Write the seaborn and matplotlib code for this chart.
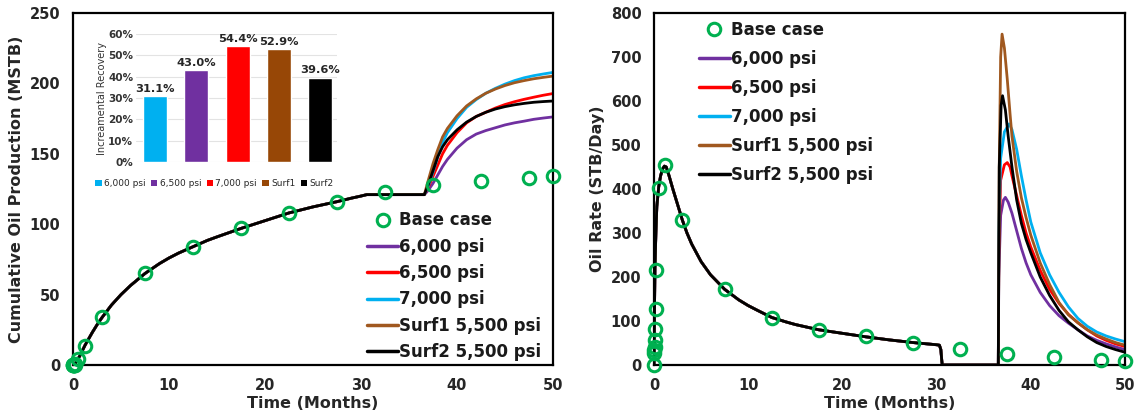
import numpy as np
import pandas as pd
import matplotlib
matplotlib.use("Agg")
import matplotlib.pyplot as plt
from matplotlib.lines import Line2D
from matplotlib.patches import Patch
import seaborn as sns

sns.set_theme(style="white")
plt.rcParams['font.family'] = ['DejaVu Sans']

# ---------------- data ----------------
series_names = ["6,000 psi", "6,500 psi", "7,000 psi", "Surf1 5,500 psi", "Surf2 5,500 psi"]
line_colors = ["#7030A0", "#FF0000", "#00B0F0", "#A0581F", "#000000"]

# base case markers (time in months)
base_t = [0, 0.03, 0.05, 0.07, 0.1, 0.13, 0.17, 0.25, 0.5, 1.2, 3, 7.5, 12.5, 17.5,
          22.5, 27.5, 32.5, 37.5, 42.5, 47.5, 50]
base_cum = [0, 0, 0, 0, 0.1, 0.2, 0.3, 1, 4, 13.5, 34, 65, 84, 97,
            108, 116, 123, 127.5, 131, 133, 134]
base_rate = [0, 28, 33, 40, 57, 82, 128, 215, 402, 455, 330, 172, 107, 80,
             65, 50, 36, 25, 18, 11, 10]

# shared history (before re-injection)
hist_cum_t = [0, 0.25, 0.5, 0.75, 1, 1.25, 1.5, 2, 2.5, 3, 3.5, 4, 5, 6, 7.5, 9, 10, 11,
              12.5, 14, 15, 17.5, 20, 22.5, 25, 27.5, 29, 30, 30.6]
hist_cum = [0, 1.3, 4, 7, 10.5, 14, 17, 23, 28.5, 33.5, 38, 42.5, 50, 56.5, 65, 72, 76, 79.5,
            84, 88.5, 91, 97, 102.5, 108, 112.3, 116, 118.5, 120, 121]

hist_rate_t = [0, 0.05, 0.1, 0.2, 0.3, 0.5, 0.7, 0.9, 1.1, 1.3, 1.6, 2, 2.5, 3, 3.5, 4, 5, 6,
               7.5, 9, 10, 11, 12.5, 14, 15, 17.5, 20, 22.5, 25, 27.5, 29, 30, 30.3, 30.45,
               30.55, 30.6]
hist_rate = [0, 120, 220, 300, 360, 405, 430, 445, 452, 450, 430, 400, 365, 330, 300, 275, 235,
             205, 172, 148, 135, 124, 108, 98, 92, 80, 72, 64, 57, 51, 48, 46, 45, 35, 10, 0]

# after re-injection: cumulative
post_cum_t = [36.6, 37, 37.5, 38, 38.5, 39, 40, 41, 42, 43, 44, 45, 46, 47, 48, 49, 50]
cum_6000 = [121, 124, 129, 135, 141, 146, 154, 160, 164, 166.5, 168.5, 170.5, 172, 173.2, 174.5, 175.4, 176.2]
cum_6500 = [121, 126, 134, 142, 150, 156, 165, 172, 176.5, 179.5, 182.5, 185, 187, 188.7, 190.2, 191.6, 192.8]
cum_7000 = [121, 127, 137, 148, 158, 165, 175, 183, 188.5, 193, 196.5, 199.5, 202, 204, 205.5, 206.7, 207.8]
cum_surf1 = [121, 131, 143, 153, 162, 168, 177, 184, 189, 193, 196, 198.5, 200.5, 202, 203.3, 204.3, 205.2]
cum_surf2 = [121, 128, 138, 148, 155, 160, 167, 172.5, 176.5, 179.5, 181.8, 183.5, 184.8, 185.8, 186.6, 187.1, 187.5]

# after re-injection: rate
rate_6000_t = [30.6, 36.55, 36.6, 36.8, 37.1, 37.3, 37.6, 38, 38.5, 39, 39.5, 40, 41, 42, 43, 44, 45, 46, 47, 48, 49, 50]
rate_6000 = [0, 0, 200, 340, 375, 381, 370, 345, 305, 265, 232, 205, 165, 135, 112, 95, 80, 66, 56, 48, 41, 35]
rate_6500_t = [30.6, 36.55, 36.6, 36.8, 37.2, 37.5, 37.8, 38, 38.5, 39, 39.5, 40, 41, 42, 43, 44, 45, 46, 47, 48, 49, 50]
rate_6500 = [0, 0, 250, 420, 455, 460, 450, 430, 385, 340, 300, 268, 215, 172, 140, 115, 96, 80, 66, 56, 48, 42]
rate_7000_t = [30.6, 36.55, 36.6, 36.8, 37.2, 37.7, 38, 38.5, 39, 39.5, 40, 41, 42, 43, 44, 45, 46, 47, 48, 49, 50]
rate_7000 = [0, 0, 300, 470, 530, 548, 535, 490, 430, 375, 325, 255, 205, 165, 132, 106, 88, 75, 66, 59, 53]
rate_surf1_t = [30.6, 36.55, 36.65, 36.8, 36.95, 37.2, 37.5, 37.8, 38, 38.5, 39, 39.5, 40, 41, 42, 43, 44, 45, 46, 47, 48, 49, 50]
rate_surf1 = [0, 0, 450, 700, 752, 720, 650, 570, 520, 440, 380, 335, 295, 232, 183, 142, 114, 96, 80, 68, 59, 51, 45]
rate_surf2_t = [30.6, 36.55, 36.65, 36.85, 37.0, 37.3, 37.6, 38, 38.5, 39, 39.5, 40, 41, 42, 43, 44, 45, 46, 47, 48, 49, 50]
rate_surf2 = [0, 0, 450, 590, 612, 580, 520, 450, 375, 322, 285, 255, 200, 158, 124, 98, 80, 64, 51, 42, 35, 29]

# inset bar chart
bar_labels = ["6,000 psi", "6,500 psi", "7,000 psi", "Surf1", "Surf2"]
bar_values = [31.1, 43.0, 54.4, 52.9, 39.6]
bar_colors = ["#00B0F0", "#7030A0", "#FF0000", "#974706", "#000000"]

# --------------- figure ---------------
W, H = 1141, 415
fig = plt.figure(figsize=(W / 100, H / 100), dpi=100)
ax1 = fig.add_axes([73 / W, 1 - 365 / H, (553 - 73) / W, (365 - 13) / H])
ax2 = fig.add_axes([654 / W, 1 - 365 / H, (1125 - 654) / W, (365 - 13) / H])

green = "#00B050"
lw = 2.0

cum_post = [cum_6000, cum_6500, cum_7000, cum_surf1, cum_surf2]
rate_post = [(rate_6000_t, rate_6000), (rate_6500_t, rate_6500), (rate_7000_t, rate_7000),
             (rate_surf1_t, rate_surf1), (rate_surf2_t, rate_surf2)]

for name, col, cp, (rt, rv) in zip(series_names, line_colors, cum_post, rate_post):
    df_c = pd.DataFrame({"t": hist_cum_t + post_cum_t, "v": hist_cum + cp})
    sns.lineplot(data=df_c, x="t", y="v", ax=ax1, color=col, linewidth=lw,
                 estimator=None, sort=False, legend=False)
    df_r = pd.DataFrame({"t": hist_rate_t + rt, "v": hist_rate + rv})
    sns.lineplot(data=df_r, x="t", y="v", ax=ax2, color=col, linewidth=lw,
                 estimator=None, sort=False, legend=False)

for ax, yv in [(ax1, base_cum), (ax2, base_rate)]:
    sns.lineplot(x=base_t, y=yv, ax=ax, marker="o", linestyle="none", markersize=9,
                 markerfacecolor="none", markeredgecolor=green, markeredgewidth=2.2,
                 estimator=None, sort=False, legend=False, zorder=5, clip_on=False)

handles = [Line2D([], [], marker="o", linestyle="none", markersize=9, markerfacecolor="none",
                  markeredgecolor=green, markeredgewidth=2.2)]
handles += [Line2D([], [], color=c, linewidth=2.5) for c in line_colors]
labels = ["Base case"] + series_names

tick_col = "#262626"
for ax, ymax, ystep, ylabel, ylx in [(ax1, 250, 50, "Cumulative Oil Production (MSTB)", -0.117),
                                     (ax2, 800, 100, "Oil Rate (STB/Day)", -0.121)]:
    ax.set_xlim(0, 50)
    ax.set_ylim(0, ymax)
    ax.set_xticks(np.arange(0, 51, 10))
    ax.set_yticks(np.arange(0, ymax + 1, ystep))
    ax.tick_params(length=0, labelsize=10.5, colors=tick_col)
    ax.tick_params(axis="y", pad=9)
    ax.tick_params(axis="x", pad=9)
    for lab in ax.get_xticklabels() + ax.get_yticklabels():
        lab.set_fontweight("bold")
    ax.set_xlabel("Time (Months)", fontsize=11.5, fontweight="bold", color=tick_col)
    ax.set_ylabel(ylabel, fontsize=11.5, fontweight="bold", color=tick_col)
    ax.xaxis.set_label_coords(0.5, -0.108)
    ax.yaxis.set_label_coords(ylx, 0.5)
    ax.xaxis.label.set_va("center")
    ax.yaxis.label.set_va("center")
    for s in ax.spines.values():
        s.set_color("black")
        s.set_linewidth(1.6)
    ax.grid(False)

leg1 = ax1.legend(handles, labels, loc="lower right", bbox_to_anchor=(1.0, -0.022),
                  frameon=False, prop={"weight": "bold", "size": 12}, handlelength=1.9,
                  handletextpad=0.05, labelspacing=0.5, borderpad=0.2)
for t in leg1.get_texts():
    t.set_color("#1a1a1a")
leg2 = ax2.legend(handles, labels, loc="upper left", bbox_to_anchor=(0.07, 1.01),
                  frameon=False, prop={"weight": "bold", "size": 12}, handlelength=1.9,
                  handletextpad=0.05, labelspacing=0.66, borderpad=0.2)
for t in leg2.get_texts():
    t.set_color("#1a1a1a")

# ---------------- inset ----------------
axi = fig.add_axes([136 / W, 1 - 162 / H, 201 / W, 128 / H])
df_b = pd.DataFrame({"case": bar_labels, "val": bar_values})
sns.barplot(data=df_b, x="case", y="val", hue="case", palette=bar_colors, ax=axi,
            width=0.58, legend=False, saturation=1)
axi.set_xlim(-0.46, 4.4)
axi.set_ylim(0, 60)
axi.set_yticks(np.arange(0, 61, 10))
axi.set_yticklabels([f"{v}%" for v in range(0, 61, 10)])
axi.yaxis.grid(True, color="#e3e3e3", linewidth=0.8)
axi.set_axisbelow(True)
axi.set_xticks([])
axi.set_xlabel("")
axi.set_ylabel("Increamental Recovery", fontsize=7, color="#333333", labelpad=1)
axi.tick_params(axis="y", length=0, labelsize=7.5, colors="#333333", pad=2)
for lab in axi.get_yticklabels():
    lab.set_fontweight("bold")
for s in axi.spines.values():
    s.set_visible(False)
axi.patch.set_alpha(0)
for i, v in enumerate(bar_values):
    axi.text(i, v + 1, f"{v:.1f}%", ha="center", va="bottom", fontsize=8.2,
             fontweight="bold", color="#262626")

ihandles = [Patch(facecolor=c, edgecolor="none") for c in bar_colors]
axi.legend(ihandles, bar_labels, loc="upper center", bbox_to_anchor=(0.39, -0.1), ncol=5,
           frameon=False, fontsize=6.5, handlelength=0.7, handleheight=0.7,
           handletextpad=0.25, columnspacing=0.6, borderpad=0)

fig.savefig("out.png", dpi=100)
